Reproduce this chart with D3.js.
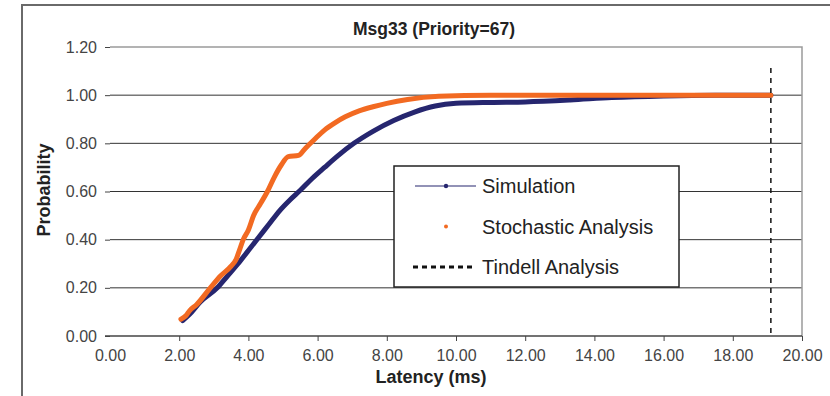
<!DOCTYPE html>
<html>
<head>
<meta charset="utf-8">
<script src="https://cdnjs.cloudflare.com/ajax/libs/d3/7.8.5/d3.min.js"></script>
<style>
  body { margin: 0; background: #fff; }
  svg { font-family: "Liberation Sans", Arial, sans-serif; }
</style>
</head>
<body>
<svg id="chart" width="830" height="396"></svg>
<script>
// ---- data ----
var vsTitle = "Msg33 (Priority=67)";
var vnXTicks = [0, 2, 4, 6, 8, 10, 12, 14, 16, 18, 20];
var vnYTicks = [0, 0.2, 0.4, 0.6, 0.8, 1.0, 1.2];

// Simulation (latency ms, cumulative probability)
var vnSimX = [2.1, 2.3, 2.6, 3.1, 3.4, 3.7, 4.0, 4.3, 4.6, 4.9, 5.2, 5.5, 5.85, 6.2, 6.6, 7.05, 7.6, 8.2, 8.8, 9.4, 10.0, 11.0, 12.0, 13.3, 14.5, 16.0, 17.5, 19.1];
var vnSimY = [0.064, 0.09, 0.14, 0.20, 0.25, 0.30, 0.355, 0.41, 0.465, 0.52, 0.565, 0.605, 0.655, 0.70, 0.75, 0.80, 0.85, 0.895, 0.93, 0.955, 0.966, 0.97, 0.972, 0.98, 0.99, 0.997, 1.0, 1.0];

// Stochastic Analysis
var vnStoX = [2.05, 2.2, 2.3, 2.5, 2.9, 3.2, 3.5, 3.65, 3.75, 3.85, 4.0, 4.15, 4.35, 4.55, 4.75, 4.95, 5.15, 5.45, 5.65, 5.9, 6.2, 6.5, 6.8, 7.2, 7.6, 8.0, 8.6, 9.5, 11.0, 19.1];
var vnStoY = [0.07, 0.085, 0.105, 0.13, 0.20, 0.25, 0.29, 0.32, 0.36, 0.40, 0.44, 0.50, 0.55, 0.60, 0.66, 0.71, 0.745, 0.75, 0.78, 0.815, 0.855, 0.885, 0.91, 0.935, 0.952, 0.966, 0.982, 0.995, 1.0, 1.0];

// Tindell Analysis (worst-case bound)
var nTindell = 19.1;

var vsLegend = ["Simulation", "Stochastic Analysis", "Tindell Analysis"];

var g_colorSim = "#26266f";
var g_colorSto = "#f26a22";

var svg = d3.select("#chart");

// outer chart frame
svg.append("rect")
    .attr("x", 22).attr("y", 5)
    .attr("width", 830).attr("height", 420)
    .attr("fill", "none")
    .attr("stroke", "#6a6a6a")
    .attr("stroke-width", 2);

var x = d3.scaleLinear().domain([0, 20]).range([110, 802]);
var y = d3.scaleLinear().domain([0, 1.2]).range([336, 47]);

// gridlines
svg.append("g")
    .selectAll("line")
    .data(vnYTicks.filter(function(d) { return d > 0 && d < 1.2; }))
    .enter().append("line")
        .attr("x1", x(0)).attr("x2", x(20))
        .attr("y1", function(d) { return y(d); })
        .attr("y2", function(d) { return y(d); })
        .attr("stroke", "#333")
        .attr("stroke-width", 1);

// plot area border (top and right)
svg.append("path")
    .attr("d", "M" + x(0) + "," + y(1.2) + "H" + x(20) + "V" + y(0))
    .attr("fill", "none")
    .attr("stroke", "#9a9a9a")
    .attr("stroke-width", 1.5);

// y axis
var gY = svg.append("g")
    .attr("transform", "translate(" + x(0) + ",0)")
    .call(d3.axisLeft(y).tickValues(vnYTicks).tickSize(5).tickPadding(8)
        .tickFormat(d3.format(".2f")));
gY.select(".domain").remove();
gY.selectAll("line").attr("stroke", "#444");
gY.selectAll("text")
    .attr("font-size", 16)
    .attr("fill", "#444")
    .attr("font-family", "Liberation Sans, Arial, sans-serif");

// x axis
var gX = svg.append("g")
    .attr("transform", "translate(0," + y(0) + ")")
    .call(d3.axisBottom(x).tickValues(vnXTicks).tickSize(5).tickPadding(9)
        .tickFormat(d3.format(".2f")));
gX.select(".domain").attr("d", "M105,0H" + x(20)).attr("stroke", "#444").attr("stroke-width", 1.5);
gX.selectAll(".tick line").attr("stroke", "#444");
gX.selectAll(".tick").filter(function(d) { return d === 0; }).select("line").remove();
gX.selectAll("text")
    .attr("font-size", 16)
    .attr("fill", "#444")
    .attr("font-family", "Liberation Sans, Arial, sans-serif");

// series
var line = d3.line()
    .curve(d3.curveMonotoneX)
    .x(function(d) { return x(d[0]); })
    .y(function(d) { return y(d[1]); });

var tjSim = d3.zip(vnSimX, vnSimY);
var tjSto = d3.zip(vnStoX, vnStoY);

svg.append("path")
    .datum(tjSim)
    .attr("d", line)
    .attr("fill", "none")
    .attr("stroke", g_colorSim)
    .attr("stroke-width", 5)
    .attr("stroke-linejoin", "round")
    .attr("stroke-linecap", "round");

svg.append("path")
    .datum(tjSto)
    .attr("d", line)
    .attr("fill", "none")
    .attr("stroke", g_colorSto)
    .attr("stroke-width", 5)
    .attr("stroke-linejoin", "round")
    .attr("stroke-linecap", "round");

// Tindell bound
svg.append("line")
    .attr("x1", x(nTindell)).attr("x2", x(nTindell))
    .attr("y1", 68).attr("y2", y(0))
    .attr("stroke", "#111")
    .attr("stroke-width", 1.5)
    .attr("stroke-dasharray", "5,5");

// title
svg.append("text")
    .attr("x", 434).attr("y", 35)
    .attr("text-anchor", "middle")
    .attr("font-size", 17.5)
    .attr("font-weight", "bold")
    .attr("fill", "#222")
    .text(vsTitle);

// axis titles
svg.append("text")
    .attr("transform", "translate(50,190) rotate(-90)")
    .attr("text-anchor", "middle")
    .attr("font-size", 18)
    .attr("font-weight", "bold")
    .attr("fill", "#222")
    .text("Probability");

svg.append("text")
    .attr("x", 431).attr("y", 383)
    .attr("text-anchor", "middle")
    .attr("font-size", 18)
    .attr("font-weight", "bold")
    .attr("fill", "#222")
    .text("Latency (ms)");

// legend
var gLeg = svg.append("g");
gLeg.append("rect")
    .attr("x", 394).attr("y", 166)
    .attr("width", 285).attr("height", 121)
    .attr("fill", "#fff")
    .attr("stroke", "#222")
    .attr("stroke-width", 1.5);

var vnLegY = [186, 226.5, 267];

gLeg.append("line")
    .attr("x1", 415).attr("x2", 476)
    .attr("y1", vnLegY[0]).attr("y2", vnLegY[0])
    .attr("stroke", g_colorSim).attr("stroke-width", 1.2);
gLeg.append("circle")
    .attr("cx", 446).attr("cy", vnLegY[0]).attr("r", 2.2)
    .attr("fill", g_colorSim);
gLeg.append("circle")
    .attr("cx", 446).attr("cy", vnLegY[1]).attr("r", 2)
    .attr("fill", g_colorSto);
gLeg.append("line")
    .attr("x1", 413).attr("x2", 472)
    .attr("y1", vnLegY[2]).attr("y2", vnLegY[2])
    .attr("stroke", "#111").attr("stroke-width", 3)
    .attr("stroke-dasharray", "5,4");

gLeg.selectAll("text.leg")
    .data(vsLegend)
    .enter().append("text")
        .attr("class", "leg")
        .attr("x", 482)
        .attr("y", function(d, i) { return vnLegY[i] + 7; })
        .attr("font-size", 20)
        .attr("fill", "#222")
        .text(function(d) { return d; });
</script>
</body>
</html>
